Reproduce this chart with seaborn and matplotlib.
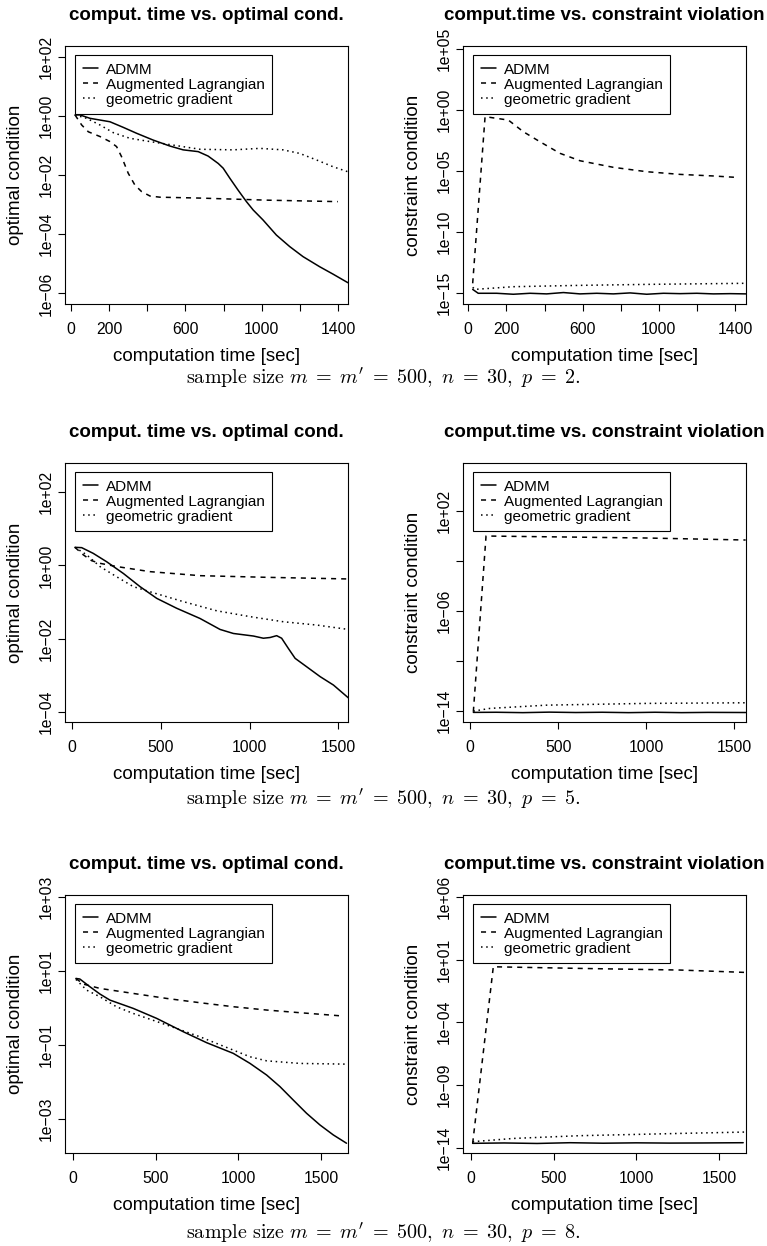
import numpy as np
import pandas as pd
import seaborn as sns
import matplotlib
matplotlib.use("Agg")
import matplotlib.pyplot as plt
from matplotlib.ticker import FixedLocator, NullLocator, FixedFormatter

sns.set_style("ticks")
plt.rcParams["font.family"] = ["Liberation Sans", "DejaVu Sans"]
plt.rcParams["mathtext.fontset"] = "cm"
for k in ["text.color", "axes.labelcolor", "xtick.color", "ytick.color", "axes.edgecolor"]:
    plt.rcParams[k] = "black"

series_names = ["ADMM", "Augmented Lagrangian", "geometric gradient"]
xlabel = "computation time [sec]"
title_opt = "comput. time vs. optimal cond."
title_con = "comput.time vs. constraint violation"
ylabel_opt = "optimal condition"
ylabel_con = "constraint condition"
captions = [r"$\mathrm{sample\ size}\ m\;=\;m'\;=\;500,\ n\;=\;30,\ p\;=\;2.$",
            r"$\mathrm{sample\ size}\ m\;=\;m'\;=\;500,\ n\;=\;30,\ p\;=\;5.$",
            r"$\mathrm{sample\ size}\ m\;=\;m'\;=\;500,\ n\;=\;30,\ p\;=\;8.$"]

# ---- p = 2, optimal condition (values given as log10) ----
p2_opt_admm_t = [21, 47, 100, 204, 274, 344, 431, 518, 588, 667, 719, 772, 798, 833, 876, 920, 955, 1007, 1077, 1147, 1217, 1304, 1374, 1452]
p2_opt_admm_log = [0.03, 0.03, -0.085, -0.2, -0.39, -0.59, -0.82, -1.02, -1.15, -1.21, -1.36, -1.61, -1.77, -2.11, -2.51, -2.90, -3.18, -3.52, -4.03, -4.42, -4.76, -5.10, -5.35, -5.64]
p2_opt_al_t = [21, 56, 91, 152, 204, 239, 265, 300, 335, 370, 414, 466, 676, 1025, 1400]
p2_opt_al_log = [0.03, -0.31, -0.54, -0.70, -0.87, -1.04, -1.38, -1.94, -2.34, -2.56, -2.71, -2.75, -2.78, -2.85, -2.90]
p2_opt_gg_t = [21, 82, 152, 222, 309, 414, 536, 676, 850, 990, 1112, 1199, 1287, 1374, 1452]
p2_opt_gg_log = [0.03, -0.085, -0.31, -0.57, -0.76, -0.87, -0.99, -1.13, -1.15, -1.10, -1.15, -1.27, -1.49, -1.72, -1.89]

# ---- p = 2, constraint condition ----
p2_con_admm_t = [23, 52, 149, 236, 324, 411, 499, 586, 674, 761, 849, 936, 1024, 1111, 1199, 1286, 1374, 1456]
p2_con_admm_log = [-14.73, -15.05, -15.05, -15.13, -15.05, -15.10, -14.99, -15.10, -15.05, -15.10, -15.02, -15.13, -15.05, -15.08, -15.05, -15.10, -15.08, -15.10]
p2_con_al_t = [23, 88, 210, 289, 376, 481, 586, 761, 936, 1111, 1286, 1400]
p2_con_al_log = [-14.23, -0.55, -0.83, -1.79, -2.61, -3.56, -4.17, -4.71, -5.07, -5.29, -5.42, -5.53]
p2_con_gg_t = [23, 35, 236, 586, 936, 1456]
p2_con_gg_log = [-14.56, -14.73, -14.51, -14.40, -14.32, -14.23]

# ---- p = 5, optimal condition ----
p5_opt_admm_t = [15, 53, 118, 194, 288, 382, 476, 588, 720, 833, 908, 1021, 1077, 1115, 1152, 1180, 1218, 1256, 1321, 1397, 1472, 1556]
p5_opt_admm_log = [0.495, 0.486, 0.33, 0.10, -0.22, -0.58, -0.90, -1.17, -1.45, -1.75, -1.86, -1.93, -1.99, -1.97, -1.92, -1.99, -2.27, -2.54, -2.77, -3.04, -3.27, -3.62]
p5_opt_al_t = [15, 62, 109, 156, 250, 438, 720, 1096, 1556]
p5_opt_al_log = [0.495, 0.29, 0.13, 0.058, -0.03, -0.17, -0.28, -0.325, -0.37]
p5_opt_gg_t = [15, 81, 156, 250, 344, 438, 626, 814, 1002, 1190, 1378, 1556]
p5_opt_gg_log = [0.495, 0.29, -0.03, -0.31, -0.58, -0.72, -0.99, -1.24, -1.40, -1.54, -1.63, -1.75]

# ---- p = 5, constraint condition ----
p5_con_admm_t = [19, 150, 300, 450, 600, 750, 900, 1050, 1200, 1350, 1564]
p5_con_admm_log = [-14.13, -14.12, -14.15, -14.11, -14.14, -14.12, -14.15, -14.12, -14.15, -14.13, -14.14]
p5_con_al_t = [19, 91, 435, 1003, 1564]
p5_con_al_log = [-14.08, 0.0, -0.06, -0.16, -0.32]
p5_con_gg_t = [19, 113, 435, 1003, 1564]
p5_con_gg_log = [-14.03, -13.81, -13.55, -13.41, -13.36]

# ---- p = 8, optimal condition ----
p8_opt_admm_t = [16, 40, 101, 162, 222, 363, 505, 666, 808, 969, 1070, 1171, 1252, 1332, 1413, 1494, 1575, 1655]
p8_opt_admm_log = [0.796, 0.78, 0.571, 0.373, 0.211, -0.013, -0.283, -0.643, -0.94, -1.228, -1.498, -1.813, -2.127, -2.487, -2.847, -3.162, -3.432, -3.656]
p8_opt_al_t = [16, 61, 162, 363, 565, 767, 969, 1171, 1373, 1635]
p8_opt_al_log = [0.796, 0.643, 0.526, 0.391, 0.256, 0.14, 0.032, -0.058, -0.13, -0.22]
p8_opt_gg_t = [16, 81, 162, 262, 363, 565, 767, 969, 1070, 1171, 1373, 1665]
p8_opt_gg_log = [0.77, 0.48, 0.30, 0.03, -0.15, -0.46, -0.78, -1.14, -1.32, -1.43, -1.50, -1.52]

# ---- p = 8, constraint condition ----
p8_con_admm_t = [10, 200, 400, 600, 800, 1000, 1200, 1400, 1647]
p8_con_admm_log = [-13.65, -13.62, -13.66, -13.60, -13.64, -13.61, -13.63, -13.62, -13.60]
p8_con_al_t = [10, 135, 659, 1264, 1661]
p8_con_al_log = [-13.65, 0.42, 0.29, 0.16, -0.03]
p8_con_gg_t = [10, 256, 659, 1264, 1661]
p8_con_gg_log = [-13.52, -13.26, -13.04, -12.86, -12.75]

# axis ticks
x_ticks_p2 = [0, 200, 400, 600, 800, 1000, 1200, 1400]
x_labels_p2 = ["0", "200", "", "600", "", "1000", "", "1400"]
x_ticks_p58 = [0, 500, 1000, 1500]
x_labels_p58 = ["0", "500", "1000", "1500"]

y_ticks = {
    "p2_opt": [2, 0, -2, -4, -6],
    "p2_con": [5, 0, -5, -10, -15],
    "p5_opt": [2, 0, -2, -4],
    "p5_con": [2, -2, -6, -10, -14],
    "p8_opt": [3, 1, -1, -3],
    "p8_con": [6, 1, -4, -9, -14],
}
y_shown = {"p5_con": [2, -6, -14]}


def exp_label(e):
    s = "1e%+03d" % e
    return s.replace("-", "\u2212")


W, H = 767, 1246
fig = plt.figure(figsize=(W / 100, H / 100), dpi=100)

# layout (pixels): left, right, top, bottom
cols = [(65, 348), (463, 746)]
rows = [(46, 304), (463, 722), (895, 1153)]
xlims = {"p2_opt": (-31.5, 1452.6), "p2_con": (-27.8, 1457),
         "p5_opt": (-41, 1554), "p5_con": (-39.7, 1566),
         "p8_opt": (-50, 1664), "p8_con": (-48.4, 1664)}
ylims = {"p2_opt": (-6.36, 2.36), "p2_con": (-15.93, 5.25),
         "p5_opt": (-4.28, 2.80), "p5_con": (-14.9, 5.85),
         "p8_opt": (-3.92, 3.05), "p8_con": (-14.42, 6.14)}

panels = [
    ("p2_opt", 0, 0, (p2_opt_admm_t, p2_opt_admm_log), (p2_opt_al_t, p2_opt_al_log), (p2_opt_gg_t, p2_opt_gg_log)),
    ("p2_con", 0, 1, (p2_con_admm_t, p2_con_admm_log), (p2_con_al_t, p2_con_al_log), (p2_con_gg_t, p2_con_gg_log)),
    ("p5_opt", 1, 0, (p5_opt_admm_t, p5_opt_admm_log), (p5_opt_al_t, p5_opt_al_log), (p5_opt_gg_t, p5_opt_gg_log)),
    ("p5_con", 1, 1, (p5_con_admm_t, p5_con_admm_log), (p5_con_al_t, p5_con_al_log), (p5_con_gg_t, p5_con_gg_log)),
    ("p8_opt", 2, 0, (p8_opt_admm_t, p8_opt_admm_log), (p8_opt_al_t, p8_opt_al_log), (p8_opt_gg_t, p8_opt_gg_log)),
    ("p8_con", 2, 1, (p8_con_admm_t, p8_con_admm_log), (p8_con_al_t, p8_con_al_log), (p8_con_gg_t, p8_con_gg_log)),
]

LW = 1.1
styles = ["-", (0, (3.3, 3.3)), (0, (1.0, 2.4))]

for key, r, c, *series in panels:
    l, rgt = cols[c]
    top, bot = rows[r]
    ax = fig.add_axes([l / W, (H - bot) / H, (rgt - l) / W, (bot - top) / H])
    for name, (t, lg), ls in zip(series_names, series, styles):
        df = pd.DataFrame({"t": t, "v": np.power(10.0, lg)})
        sns.lineplot(data=df, x="t", y="v", ax=ax, color="black", lw=LW,
                     linestyle=ls, label=name, estimator=None, sort=False)
    ax.set_yscale("log")
    ax.set_xlim(*xlims[key])
    lo, hi = ylims[key]
    ax.set_ylim(10.0 ** lo, 10.0 ** hi)
    if key.startswith("p2"):
        ax.xaxis.set_major_locator(FixedLocator(x_ticks_p2))
        ax.xaxis.set_major_formatter(FixedFormatter(x_labels_p2))
    else:
        ax.xaxis.set_major_locator(FixedLocator(x_ticks_p58))
        ax.xaxis.set_major_formatter(FixedFormatter(x_labels_p58))
    yt = y_ticks[key]
    shown = y_shown.get(key, yt)
    ax.yaxis.set_major_locator(FixedLocator([10.0 ** e for e in yt]))
    ax.yaxis.set_major_formatter(FixedFormatter(
        [exp_label(e) if e in shown else "" for e in yt]))
    ax.yaxis.set_minor_locator(NullLocator())
    ax.tick_params(axis="both", direction="out", length=5, width=0.8,
                   labelsize=11.3, colors="black")
    ax.tick_params(axis="x", pad=8)
    ax.tick_params(axis="y", pad=3)
    for lab in ax.get_yticklabels():
        lab.set_rotation(90)
        lab.set_va("center")
    for sp in ax.spines.values():
        sp.set_linewidth(0.8)
        sp.set_color("black")
    ax.set_xlabel(xlabel, fontsize=13.5, labelpad=8)
    ax.set_ylabel(ylabel_opt if c == 0 else ylabel_con, fontsize=13.5, labelpad=11)
    ax.set_title(title_opt if c == 0 else title_con, fontsize=13.5,
                 fontweight="bold", pad=19)
    leg = ax.legend(loc="upper left", bbox_to_anchor=(10 / (rgt - l), 1 - 9 / (bot - top)),
                    borderaxespad=0, fontsize=11, frameon=True, fancybox=False,
                    edgecolor="black", framealpha=1, handlelength=1.0,
                    handletextpad=0.5, labelspacing=0.07, borderpad=0.5)
    leg.get_frame().set_linewidth(0.8)

cap_y = [378, 799, 1233]
for i, cy in enumerate(cap_y):
    fig.text(383 / W, 1 - cy / H, captions[i], ha="center", va="center", fontsize=14.5)

fig.savefig("out.png", dpi=100)
